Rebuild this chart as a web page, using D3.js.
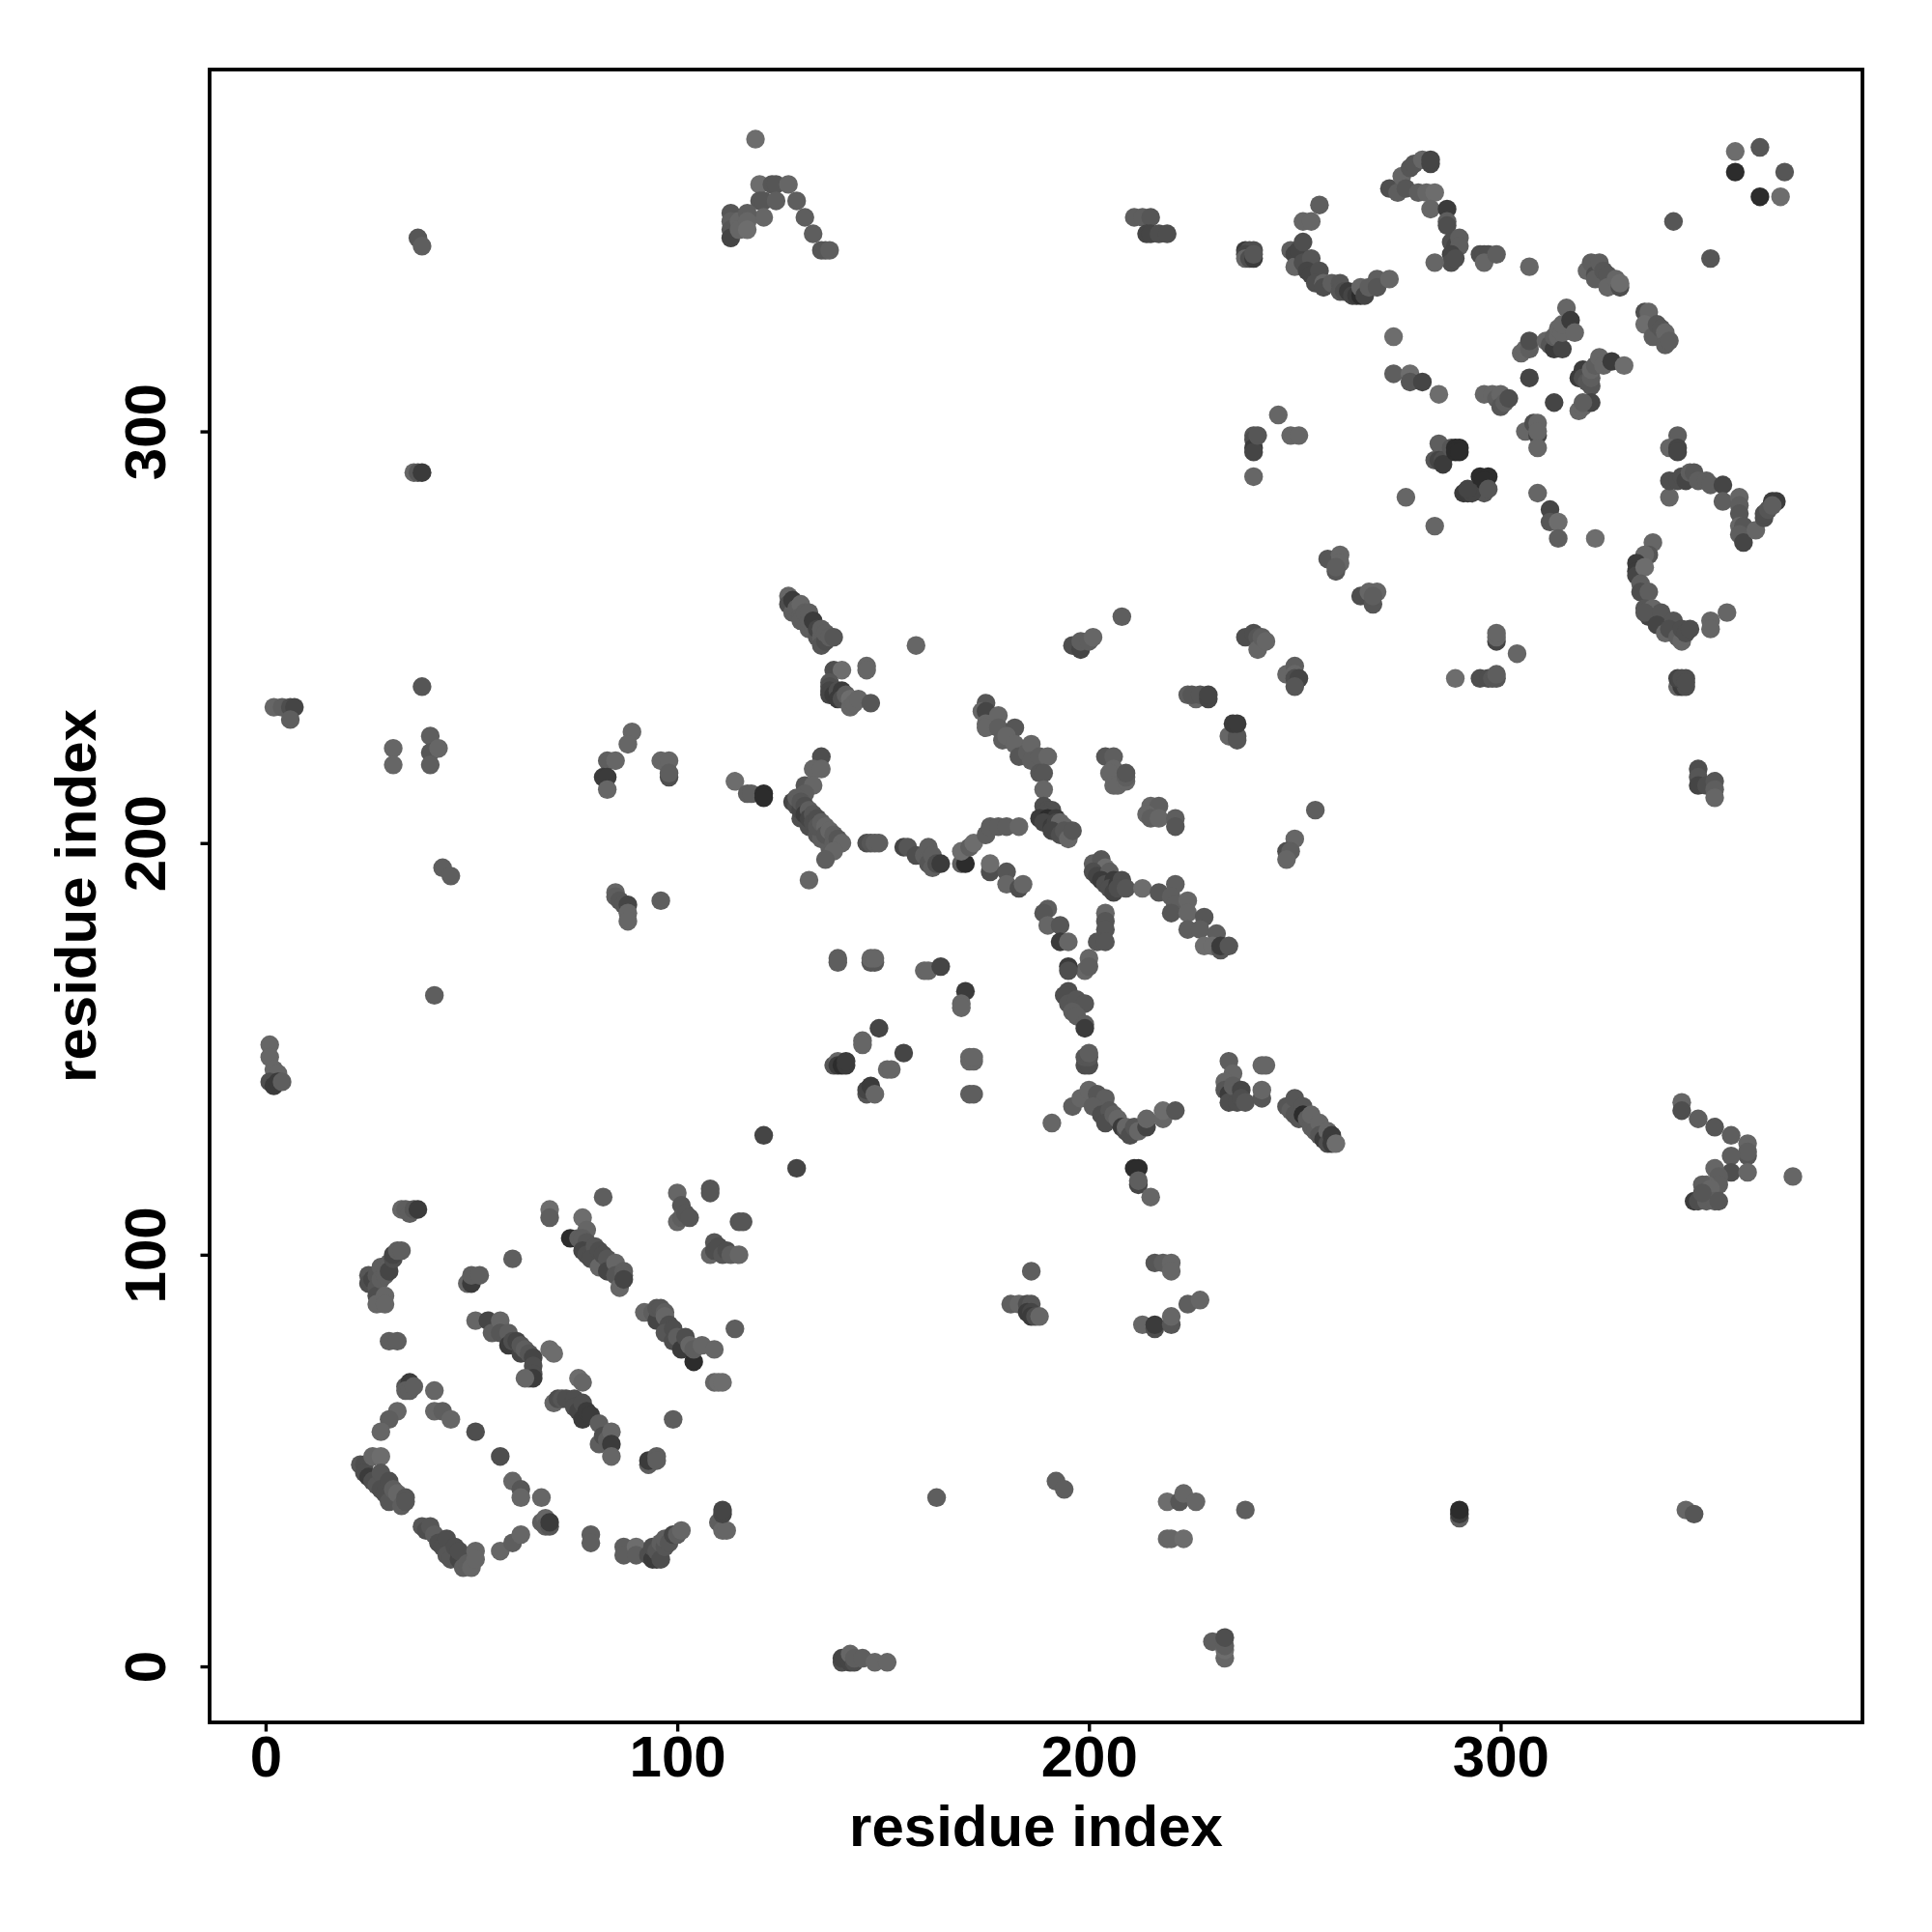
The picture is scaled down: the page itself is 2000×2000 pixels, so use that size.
<!DOCTYPE html>
<html><head><meta charset="utf-8">
<script src="https://cdnjs.cloudflare.com/ajax/libs/d3/7.8.5/d3.min.js"></script>
<style>html,body{margin:0;padding:0;background:#fff}</style></head>
<body><div id="chart"></div>
<script>
// Each entry: [residue i, residue j, score 0 (dark) .. 9 (light)]
const xTicks = [0,100,200,300];
const yTicks = [0,100,200,300];
const xTitle = "residue index";
const yTitle = "residue index";

const sheetLoopA = [[33,111,6],[34,111,5],[35,110,5],[36,111,4],[37,111,1],
[25,95,4],[25,93,3],[26,94,2],[27,95,4],[27,92,4],[27,90,3],[27,88,6],[28,97,5],[28,94,5],[29,90,6],[29,88,6],[29,95,5],[30,98,5],[30,96,2],[31,99,3],[31,100,2],[32,101,5],[33,101,5],[30,79,5],[32,79,5],
[34,68,4],[35,69,1],[34,67,5],[35,67,5],[36,68,5],[41,67,6],[32,62,6],[30,60,5],[28,57,6],[41,62,6],[43,62,5],[45,60,6],[51,57,3],[57,51,3],[60,45,6],[62,43,4],[62,41,6],[67,41,6],
[23,49,4],[24,49,3],[24,47,3],[25,46,1],[26,51,6],[26,45,3],[27,44,4],[28,51,7],[28,47,4],[28,43,3],[29,42,3],[30,45,3],[30,40,4],[31,43,5],[32,42,6],[33,39,5],[34,41,4],[34,40,4],
[38,34,4],[39,33,3],[40,34,4],[41,32,5],[42,30,3],[43,29,3],[44,31,3],[44,27,4],[45,26,4],[46,29,3],[47,26,2],[47,28,3],[48,24,5],[49,25,5],[50,24,6],[51,28,6],[51,26,6],[57,28,6],[60,30,5],[62,32,6]];

const sheetStrandsB = [[49,93,6],[50,93,1],[50,95,5],[52,95,5],[60,99,5],
[51,84,6],[54,84,2],[55,81,5],[57,84,6],[57,81,4],[59,81,5],[59,78,1],[60,79,3],[61,79,2],[62,76,2],[62,78,4],[63,77,5],[64,76,4],[65,75,2],[65,73,3],[69,77,7],[70,76,7],[64,70,6],[65,71,3],[65,70,1],[63,70,6],
[67,35,5],[68,36,6],[68,34,5],[69,34,4],[69,35,1],
[69,111,7],[69,109,5],[77,109,7],[78,106,6],[74,104,0],[76,104,5],[77,104,5],[78,103,4],[77,101,2],[78,100,3],[80,102,4],[79,99,3],[81,101,3],[81,97,6],[82,114,5],[82,100,3],[83,99,4],[83,96,2],[85,98,6],[85,95,4],[86,92,6],[87,96,5],[87,95,5],[87,94,2],
[70,64,6],[71,65,3],[72,65,4],[73,65,3],[75,65,3],[76,70,7],[77,69,6],[75,63,3],[76,62,2],[77,64,3],[77,60,1],[78,62,1],[79,61,1],[81,59,5],[81,54,5],[82,56,3],[83,55,5],[84,57,6],[84,54,1],[84,51,6],
[79,32,5],[79,30,5],[87,29,5],[87,27,5],[90,29,7],[90,27,5],[93,27,3],[94,26,1],[95,26,1],[94,29,3],[95,28,4],[96,26,3],[96,30,5],[97,29,4],[97,31,5],[98,30,4],[99,32,2],[100,32,5],[101,33,6]];

const sheetStrandsC = [[99,60,5],[93,49,5],[93,50,1],[95,51,5],[95,50,5],
[92,86,6],[94,86,5],[95,84,2],[95,87,4],[96,87,4],[97,86,5],[97,85,6],[98,83,3],[97,81,4],[99,82,3],[99,79,3],[100,80,5],[101,77,1],[102,80,3],[103,78,6],[104,74,0],[104,77,5],[106,78,6],[109,77,6],[114,82,5],[109,69,6],[110,69,7],[111,69,7],
[100,115,6],[101,112,4],[100,108,6],[101,109,5],[102,110,4],[103,109,4],[108,116,4],[108,115,4],[115,108,4],[116,108,4],[109,103,4],[108,100,6],[109,101,3],[110,102,3],[111,100,4],[112,101,3],[113,100,5],[115,100,6],
[110,35,5],[111,33,6],[112,33,6],[111,37,2],[111,38,2],[121,129,2],[129,121,2]];

const farContactsLeft = [[2,233,6],[4,233,5],[6,233,3],[7,233,2],[6,230,5],[38,238,4],[31,223,6],[31,219,6],[40,226,5],[40,222,4],[42,223,6],[40,219,5],[43,194,5],[45,192,5],
[89,227,6],[88,224,6],[83,220,5],[85,220,6],[82,216,1],[83,216,1],[83,213,6],[96,220,6],[98,220,6],[98,216,3],[98,217,5],
[85,188,6],[85,187,5],[86,186,4],[87,185,4],[88,185,2],[88,183,6],[88,181,6],[96,186,5],[41,163,5],
[1,151,6],[1,148,6],[2,145,6],[3,144,6],[1,142,3],[2,141,1],[3,142,1],[4,142,5],[37,347,4],[38,345,5],[36,290,6],[37,290,4],[38,290,1]];

const topArch = [[119,371,7],[120,360,7],[123,360,4],[124,360,4],[127,360,6],[120,356,4],[121,356,4],[124,356,5],[129,356,5],[121,352,6],[131,352,5],[133,348,5],[135,344,4],[136,344,4],[137,344,5],
[113,353,4],[113,351,5],[113,349,4],[113,347,2],[115,351,6],[115,349,6],[117,353,5],[117,351,6],[117,349,7]];

const centerLeft = [[127,260,6],[127,258,3],[128,256,5],[128,259,1],[129,257,5],[130,258,6],[130,255,5],[130,254,5],[131,256,5],[132,252,5],[132,254,5],[132,256,5],[133,252,5],[133,254,1],[134,250,4],[134,252,2],[135,250,5],[135,248,4],[135,252,5],[136,249,3],[136,251,5],[137,250,5],[138,250,4],
[138,242,3],[140,242,7],[146,243,6],[146,242,6],[137,239,4],[137,238,3],[137,237,2],[137,236,2],[138,236,1],[139,237,3],[139,235,1],[140,237,1],[140,235,3],[141,236,5],[142,235,7],[142,233,6],[143,234,6],[144,235,6],[147,234,4],[158,248,6],
[114,215,7],[117,212,5],[118,212,5],[121,212,0],[121,211,0],
[135,221,3],[133,218,6],[135,218,6],[131,214,4],[133,214,6],
[130,206,3],[132,204,3],[134,202,4],[135,201,5],[137,199,5],[131,212,5],
[128,210,2],[129,209,3],[129,211,5],[130,208,2],[130,210,4],[131,209,3],[131,207,1],[132,208,5],[132,206,2],[133,207,4],[133,205,3],[134,206,3],[134,204,4],[135,205,5],[136,204,6],[136,202,4],[137,203,6],[138,202,5],[138,200,5],[139,201,4],[140,200,6],[138,198,6],[136,196,5],[132,191,6],
[146,200,3],[147,200,4],[148,200,5],[149,200,5],[155,199,2],[156,199,4],[158,197,3],[160,197,5],[161,199,5],[161,196,5],[161,195,4],[162,194,5],[162,197,5],[163,195,3],[164,195,1]];

const centerLower = [[139,172,5],[139,171,5],[147,171,4],[148,171,4],[147,172,6],[148,172,6],[160,169,6],[161,169,6],[164,170,2],[170,164,1],[169,161,6],[169,160,6],
[149,155,2],[145,152,6],[145,151,6],[155,149,2],[151,145,6],[152,145,6],[138,146,4],[139,147,6],[139,146,1],[140,146,0],[141,146,1],[141,147,1],
[146,139,4],[146,140,2],[147,141,1],[148,139,6],[171,147,6],[172,147,6],[171,148,6],[172,148,6],[171,139,5],[172,139,5],
[163,41,5],[140,1,3],[141,2,3],[140,2,2],[142,1,2],[142,3,6],[143,1,3],[143,2,5],[145,2,5],[148,1,6],[151,1,6]];

const branchTop = [[169,195,5],[170,195,0],[169,198,7],[171,199,5],[172,200,7],[175,202,5],[176,204,5],[178,204,5],[180,204,5],[183,204,6],
[176,193,3],[176,195,7],[180,193,4],[180,190,6],[183,189,3],[184,190,6],
[175,234,4],[174,232,6],[175,232,2],[175,229,6],[175,228,6],[178,231,6],[178,228,5],[179,225,5],[182,228,4],[180,226,6],[182,224,6],[183,221,4],[185,222,5],[186,224,6],[186,220,5],[188,221,5],[190,221,6],[188,217,4],[189,217,4],[189,213,6],
[189,209,3],[190,208,3],[191,208,3],[189,207,3],[188,206,1],[190,206,0],[192,206,1],[189,205,2],[191,204,1],[192,205,2],[193,205,6],[194,204,6],[191,203,2],[193,202,3],[194,203,4],[195,201,6],[196,203,4],
[190,184,5],[189,183,4],[190,180,6],[193,180,4],[193,176,1],[195,176,6],[204,183,6],[204,181,4],[204,179,4],[202,176,4],[204,176,4],[200,172,6],[199,169,6],[200,170,5],[195,170,1],[195,169,3],
[195,164,3],[194,163,3],[195,161,4],[197,162,4],[199,161,4],[196,159,5],[197,158,5],[199,156,5],[199,155,1],[199,146,3],[200,146,3],[199,148,4],[200,148,4],[200,149,5]];

const branchRight = [[204,221,4],[206,221,5],[206,218,6],[205,217,6],[206,214,6],[207,214,6],[209,215,6],[209,216,5],[209,217,4],[215,209,6],[217,209,5],[214,207,6],[215,206,5],[217,206,6],[221,206,5],[221,204,4],
[201,195,5],[203,196,4],[204,194,7],[201,193,3],[202,192,2],[205,193,5],[203,191,1],[204,190,3],[206,191,1],[205,189,3],[206,188,2],[207,190,1],[208,191,3],[207,189,3],[209,189,4],
[213,189,7],[217,188,4],[221,190,5],[220,187,5],[221,185,5],[224,186,6],[220,183,4],[224,183,6],[228,182,4],[224,179,5],[227,179,5],[231,178,5],[228,175,7],[230,175,7],[232,174,4],[232,175,1],[234,175,4],
[196,248,3],[198,247,2],[198,249,5],[200,249,5],[201,250,6],[208,255,5],[224,236,5],[226,235,6],[225,236,4],[227,236,4],[229,235,2],[229,236,2],[234,226,6],[236,226,4],[236,225,4],[235,229,1],[236,229,1],
[238,250,3],[240,251,3],[241,250,4],[241,247,6],[242,250,5],[243,249,6],[248,241,6],[250,243,5],[250,241,6],[250,240,3],[251,240,2],[250,238,4],
[258,269,4],[261,270,6],[261,268,6],[260,266,4],[260,267,5],[266,260,3],[268,261,6],[270,261,6],[269,258,4],[269,260,5],
[255,208,5],[250,201,6],[248,198,3],[249,198,5],[248,196,6]];

const lowerMiddle = [[191,132,6],[196,136,5],[198,138,6],[200,140,6],[202,139,4],[204,138,5],[201,136,5],[203,134,3],[205,135,4],[204,132,3],[206,134,5],[207,133,6],[208,131,1],[209,130,3],[209,131,6],[210,129,3],[211,131,4],[212,130,6],[214,131,2],[214,133,6],[218,133,6],[218,135,7],[221,135,4],
[211,121,0],[212,121,0],[212,117,2],[212,118,5],[215,114,6],[216,98,4],[218,98,5],[220,98,6],[220,96,6],[213,83,6],[216,82,3],[216,83,1],[220,83,4],[220,85,6],[224,88,5],[227,89,6],
[186,96,5],[181,88,5],[183,88,6],[185,88,3],[186,88,4],[185,86,1],[186,86,2],[186,85,1],[187,85,3],[188,85,6],
[234,147,5],[235,144,6],[233,142,6],[233,140,4],[234,139,1],[234,137,3],[235,141,5],[236,137,3],[237,140,2],[237,138,3],[238,137,4],[242,138,4],[242,140,6],[242,146,6],[243,146,6],
[248,136,4],[249,135,5],[250,138,4],[250,134,4],[251,133,4],[252,136,4],[252,134,0],[253,133,5],[254,131,5],[254,134,6],[255,130,5],[256,132,6],[256,129,4],[257,128,1],[258,130,6],[258,127,3],[259,129,1],[259,127,1],[260,127,7],
[192,45,5],[194,43,5],[219,40,7],[222,40,4],[223,42,6],[226,40,6],[219,31,6],[220,31,6],[223,31,7],[238,38,5],[230,6,5],[233,2,6],[233,4,7],[233,5,5],[233,7,3],[290,36,5],[290,37,1],[290,38,0],
[345,38,6],[347,37,4],[344,137,6],[344,135,3],[348,133,5],[352,131,4],[356,129,5],[360,127,6],[360,124,4],[360,125,5],[356,124,5],[356,120,3],[360,120,6],[371,119,6],[352,121,6],[353,119,5],[353,117,5],[350,117,6],[349,117,5],[351,116,6],[347,113,1],[348,113,3],[350,113,5],[352,113,5],[353,113,4],[349,115,4]];

const upperMiddle = [[238,344,1],[239,344,3],[240,344,3],[238,343,2],[238,342,6],[239,342,3],[240,342,1],[240,343,4],
[249,344,5],[250,343,2],[250,340,6],[251,344,2],[252,346,3],[252,341,3],[252,351,6],[254,351,6],[254,342,4],[253,339,2],[254,338,2],[256,339,3],[255,336,3],[256,355,5],[257,336,6],[257,335,3],[259,336,5],[261,336,4],[261,334,4],[262,334,3],[263,334,1],[264,333,2],[265,333,1],[266,333,0],[266,335,6],[267,333,2],[268,335,5],[270,337,5],[270,335,4],[273,337,6],
[240,299,4],[240,298,3],[240,296,1],[240,295,2],[241,299,4],[240,289,6],[246,304,6],[249,299,6],[251,299,6],
[211,352,5],[213,352,5],[215,352,4],[214,348,2],[215,348,2],[217,348,3],[219,348,3],[274,323,7],[274,314,5],[278,314,7],[278,312,4],[281,312,2],[285,309,7],
[273,359,3],[275,358,5],[276,362,6],[277,359,4],[278,364,4],[279,365,4],[280,358,5],[281,366,6],[282,358,6],[283,365,2],[283,366,2],[284,358,7],[283,354,6],[287,354,1],[287,351,5],[287,350,3],[288,346,3],[289,345,2],[290,347,5],[290,345,5],[288,343,2],[288,341,3],[289,342,3],[284,341,6],[295,343,3],[296,343,3],[297,343,3],[296,341,6],[299,343,5],[307,340,6]];

const upperRight = [[357,368,7],[363,369,4],[369,363,4],[357,363,0],[363,357,0],[368,357,7],[342,351,4],[351,342,4],
[321,339,6],[322,341,5],[323,338,3],[323,337,5],[324,341,5],[325,339,4],[326,338,4],[326,335,6],[328,337,6],[329,335,3],[329,336,7],
[335,329,3],[336,329,6],[335,326,7],[337,323,5],[338,326,4],[339,325,4],[340,324,6],[340,321,5],[341,322,5],
[305,319,6],[306,320,6],[307,320,5],[307,322,3],[311,322,6],[312,321,4],[313,320,1],[313,323,5],[314,323,6],[314,325,6],[315,320,2],[315,324,6],[315,326,6],[316,330,6],[317,327,1],[318,324,6],
[307,313,2],[313,307,2],[319,313,1],[320,315,1],[320,313,3],[321,312,4],[322,311,4],[322,313,5],[322,315,6],[323,316,5],[324,318,6],[325,316,6],[327,317,1],[330,316,7],[319,305,6],[320,306,6],[322,307,2],[320,307,5],
[296,309,6],[298,309,6],[299,308,5],[300,309,6],[300,306,4],[301,307,5],[302,308,3],[306,300,6],[308,302,3],[309,302,6],[309,299,2],[309,300,6],[309,296,6],
[285,297,5],[284,293,4],[285,293,2],[286,293,3],[286,292,1],[288,296,4],[289,296,0],[290,296,0],[289,295,0],[290,295,0],[296,285,4],[291,285,1],[292,285,1],[293,285,2],[292,286,2],[295,289,0],[297,289,0],[296,288,0],[297,286,4],
[277,284,6],[284,277,6],[309,285,6],[312,281,2],[312,278,4],[314,278,7],[314,274,5],[323,274,7],
[343,299,5],[341,296,6],[343,296,2],[343,295,2],[341,284,6],[341,288,3],[343,288,3],[344,289,3],[345,288,2],[346,290,5],[347,290,4],[348,288,5],[350,288,5],[351,287,5],[354,287,2],[354,283,5],[358,284,6],[358,282,5],[358,280,4],[358,277,6],[359,277,4],[358,275,5],[359,273,2],[362,276,6],[364,279,3],[364,280,3],[365,281,4],[366,283,1],[367,283,1],[366,282,5],
[337,273,6],[336,270,4],[335,270,6],[333,268,1],[333,266,1],[333,265,2],[335,267,7],[334,263,5],[334,261,3],[336,261,5],[335,257,4],[337,257,6],[336,255,2],[335,256,4],[339,256,4],[338,253,2],[340,251,6],[342,254,4],[341,252,3],[343,250,5],[344,249,6],[344,252,3],[345,251,3],[346,252,3],[351,254,6],[351,252,6],[355,256,6],
[299,249,2],[299,250,6],[299,251,6],[304,246,6],[289,240,7],[295,240,3],[297,240,3],[298,240,4],[299,240,4],[299,241,5],
[343,238,6],[344,238,1],[345,238,3],[343,240,2],[344,240,3],[345,240,3],[345,239,3],[348,218,3],[348,216,4],[348,214,2],[350,214,3],[352,215,4],[352,213,5],[352,211,6]];

const contacts = [sheetLoopA,sheetStrandsB,sheetStrandsC,farContactsLeft,topArch,centerLeft,centerLower,branchTop,branchRight,lowerMiddle,upperMiddle,upperRight].flat();

const W = 2000, H = 2000;
const box = {l:217, r:1928, t:72, b:1783};
const x = d3.scaleLinear().domain([-13.6,387.9]).range([box.l,box.r]);
const y = d3.scaleLinear().domain([-13.6,387.9]).range([box.b,box.t]);
const shade = d3.scalePow().exponent(0.75).domain([0,9]).range(["#2c2c2c","#7a7a7a"]);
const font = '"Liberation Sans", Arial, sans-serif';
const svg = d3.select("#chart").append("svg").attr("width",W).attr("height",H).style("display","block");
svg.append("rect").attr("width",W).attr("height",H).attr("fill","#fff");

svg.append("g").selectAll("circle").data(contacts).join("circle")
  .attr("cx",d=>x(d[0])).attr("cy",d=>y(d[1])).attr("r",9.7).attr("fill",d=>shade(d[2]));

svg.append("rect").attr("x",box.l).attr("y",box.t).attr("width",box.r-box.l).attr("height",box.b-box.t)
  .attr("fill","none").attr("stroke","#000").attr("stroke-width",3.8);

const ax = d3.axisBottom(x).tickValues(xTicks).tickFormat(d3.format("d")).tickSize(9.5).tickPadding(14);
const gx = svg.append("g").attr("transform",`translate(0,${box.b})`).call(ax);
const ay = d3.axisLeft(y).tickValues(yTicks).tickFormat(d3.format("d")).tickSize(9.5);
const gy = svg.append("g").attr("transform",`translate(${box.l},0)`).call(ay);
[gx,gy].forEach(g=>{g.select(".domain").remove();g.selectAll("line").attr("stroke","#000").attr("stroke-width",3.4);});
gx.selectAll("text").attr("font-family",font).attr("font-weight","bold").attr("font-size",60).attr("fill","#000")
  .attr("dy",null).attr("y",null).attr("transform",null).attr("y",1839-box.b).attr("dy",0);
gy.selectAll("text").attr("font-family",font).attr("font-weight","bold").attr("font-size",60).attr("fill","#000")
  .attr("dy",0).attr("x",0).attr("text-anchor","middle")
  .attr("transform",function(d){return `translate(${171-box.l},0) rotate(-90)`;});

svg.append("text").attr("x",(box.l+box.r)/2).attr("y",1911).attr("text-anchor","middle")
  .attr("font-family",font).attr("font-weight","bold").attr("font-size",60).text(xTitle);
svg.append("text").attr("transform",`translate(99,${(box.t+box.b)/2}) rotate(-90)`).attr("text-anchor","middle")
  .attr("font-family",font).attr("font-weight","bold").attr("font-size",60).text(yTitle);
</script></body></html>
